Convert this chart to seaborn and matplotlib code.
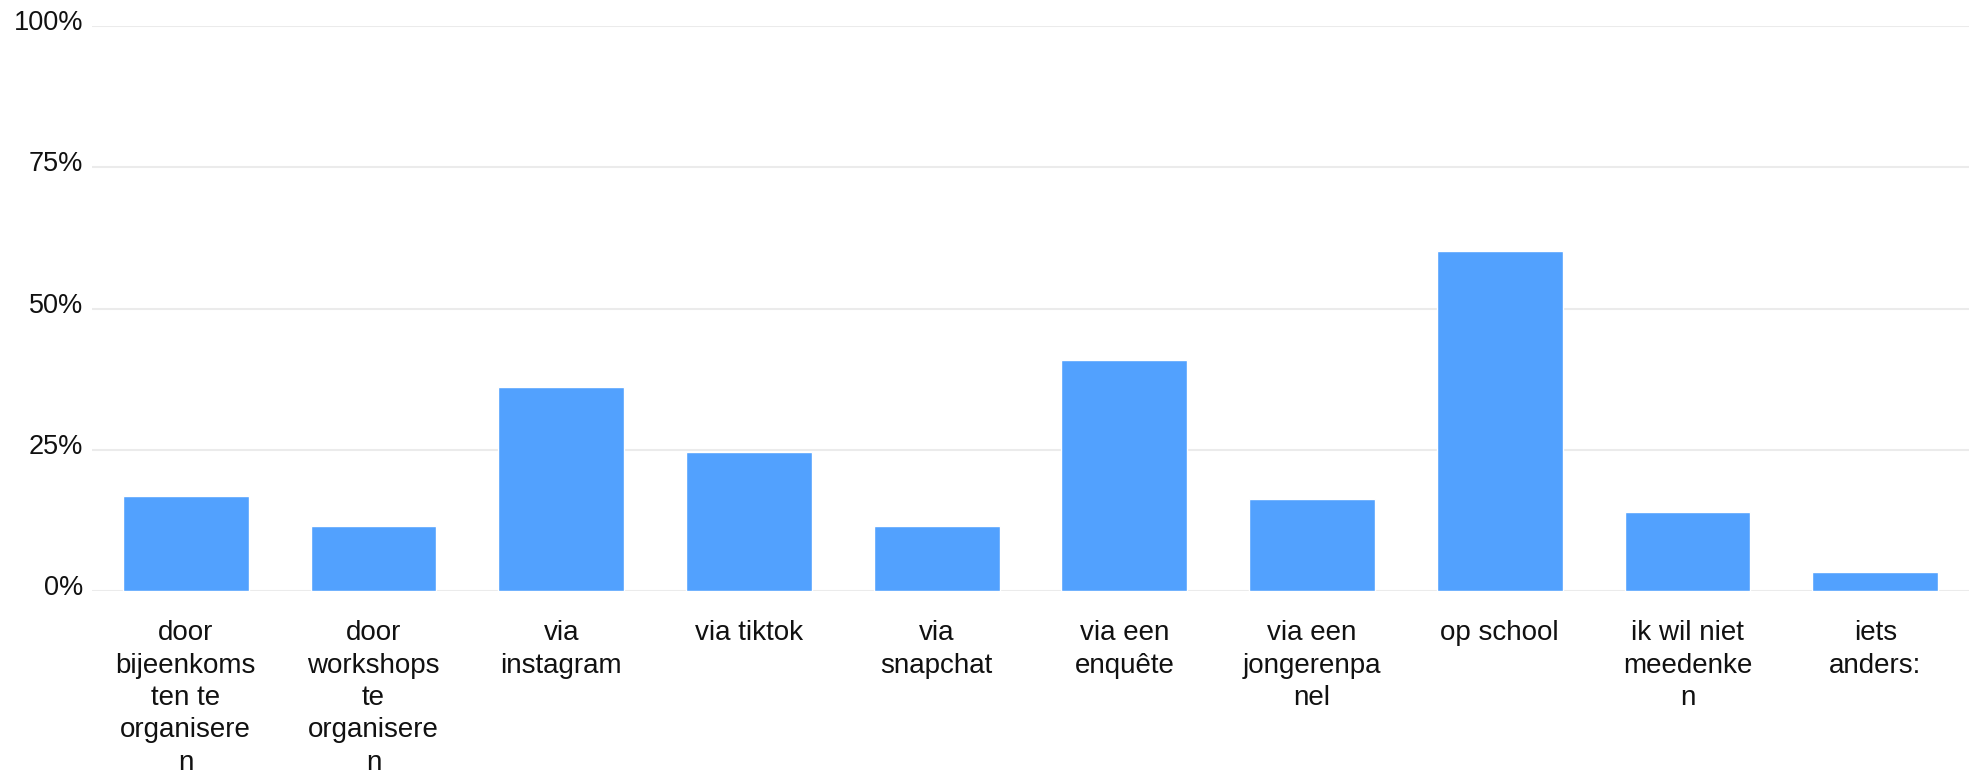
import matplotlib
matplotlib.use("Agg")
import matplotlib.pyplot as plt
import matplotlib.transforms as mtransforms
import seaborn as sns
import pandas as pd
from matplotlib.ticker import FixedLocator

categories = [
    "door\nbijeenkoms\nten te\norganisere\nn",
    "door\nworkshops\nte\norganisere\nn",
    "via\ninstagram",
    "via tiktok",
    "via\nsnapchat",
    "via een\nenquête",
    "via een\njongerenpa\nnel",
    "op school",
    "ik wil niet\nmeedenke\nn",
    "iets\nanders:",
]
values = [16.9, 11.5, 36.1, 24.6, 11.5, 40.9, 16.3, 60.2, 13.9, 3.3]
ytick_values = [0, 25, 50, 75, 100]
ytick_labels = ["0%", "25%", "50%", "75%", "100%"]

sns.set_theme(style="white")
plt.rcParams['font.family'] = ['Liberation Sans', 'DejaVu Sans']

df = pd.DataFrame({"cat": categories, "val": values})

fig = plt.figure(figsize=(19.73, 7.72), dpi=100)
ax = fig.add_axes([0.0466, 0.2345, 0.9514, 0.7315])

sns.barplot(data=df, x="cat", y="val", color="#52a1fe", saturation=1,
            width=0.67, ax=ax, zorder=3)

ax.set_ylim(0, 100)
ax.set_xlim(-0.5, len(categories) - 0.5)
ax.yaxis.set_major_locator(FixedLocator(ytick_values))
ax.set_yticklabels(ytick_labels)
ax.grid(axis="y", color="#ebebeb", linewidth=1.5, zorder=0)
ax.grid(axis="x", visible=False)
for s in ax.spines.values():
    s.set_visible(False)
ax.set_xlabel("")
ax.set_ylabel("")
ax.tick_params(axis="y", length=0, pad=6.5, labelsize=19.5, labelcolor="#111111")
ax.tick_params(axis="x", length=0, pad=21, labelsize=20, labelcolor="#111111")
for lbl in ax.get_xticklabels():
    lbl.set_linespacing(1.32)
    lbl.set_verticalalignment("top")
offset = mtransforms.ScaledTranslation(0, 4.3 / 72, fig.dpi_scale_trans)
for lbl in ax.get_yticklabels():
    lbl.set_transform(lbl.get_transform() + offset)

fig.savefig("out.png", dpi=100, facecolor="white")
